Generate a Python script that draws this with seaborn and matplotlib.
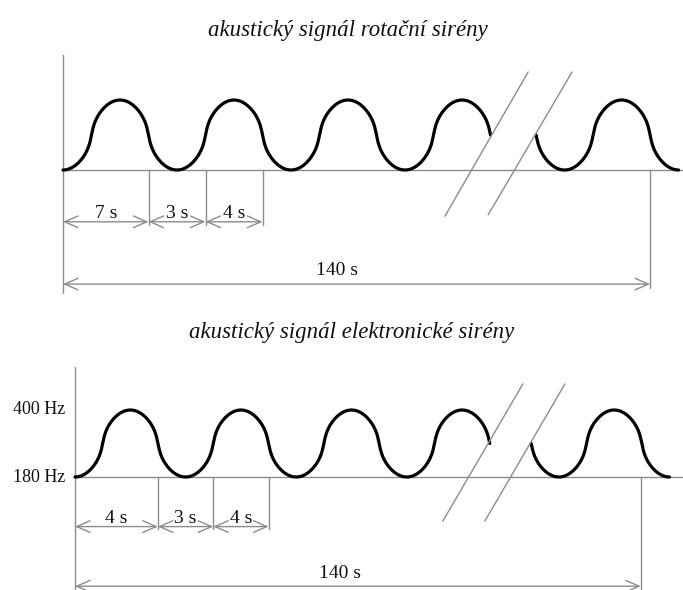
#!/usr/bin/env python3
"""Siren signal diagrams: rotary vs electronic siren (schematic)."""

import matplotlib
matplotlib.use("Agg")
import matplotlib.pyplot as plt
import numpy as np
import pandas as pd
import seaborn as sns

# --- data (diagram units: x in half-periods, y 0 = baseline, 1 = peak) ---
TITLES = ["akustický signál rotační sirény", "akustický signál elektronické sirény"]

# wave pieces before / after the break: (start, end, trough phase)
WAVE_PIECES = [
    [(0.0, 7.5, 0.0), (8.30, 10.80, 0.80)],
    [(0.0, 7.5, 0.0), (8.25, 10.75, 0.75)],
]

# dimension chain below the wave
DIM_BOUNDS = [0.0, 1.5, 2.5, 3.5]
DIM_LABELS = [["7 s", "3 s", "4 s"], ["4 s", "3 s", "4 s"]]

# total duration
TOTAL_END = [10.3, 10.23]
TOTAL_LABEL = "140 s"
TOTAL_LABEL_X = 4.8

# break marks (x0, y0, x1, y1)
BREAK_LINES = [
    [(8.16, 1.40, 6.70, -0.66), (8.93, 1.40, 7.46, -0.64)],
    [(8.10, 1.39, 6.65, -0.66), (8.86, 1.39, 7.41, -0.66)],
]

FREQ_LABELS = ["180 Hz", "400 Hz"]
FREQ_LEVELS = [0, 1]

# --- layout (pixels) ---
W, H = 683, 590
PANELS = [
    dict(ox=63, unit=57.0, base=170, amp=70, top=0, bot=295),
    dict(ox=75, unit=55.3, base=477, amp=67, top=295, bot=590),
]
GRAY = "#8c8c8c"
INK = "#111111"

sns.set_theme(style="white")
plt.rcParams["font.family"] = ["Liberation Serif", "DejaVu Serif"]

fig = plt.figure(figsize=(W / 100, H / 100), dpi=100)


def wave(u, phase, p=0.55, e=0.12):
    # cosine with steep (but smooth) flanks and broad crests
    c = np.cos(np.pi * (u - phase))
    g = c * (c**2 + e**2) ** ((p - 1) / 2) / (1 + e**2) ** ((p - 1) / 2)
    return (1 - g) / 2


for i, pan in enumerate(PANELS):
    ax = fig.add_axes([0, 1 - pan["bot"] / H, 1, (pan["bot"] - pan["top"]) / H])
    ax.set_xlim(-pan["ox"] / pan["unit"], (W - pan["ox"]) / pan["unit"])
    ax.set_ylim((pan["base"] - pan["bot"]) / pan["amp"], (pan["base"] - pan["top"]) / pan["amp"])
    ax.axis("off")

    # axis and baseline
    ax.plot([0, 0], [1.64, -1.75], color=GRAY, lw=1.0)
    ax.plot([0, 11.2], [0, 0], color=GRAY, lw=1.0)

    # signal
    for start, end, phase in WAVE_PIECES[i]:
        u = np.linspace(start, end, 600)
        df = pd.DataFrame({"t": u, "f": wave(u, phase)})
        sns.lineplot(data=df, x="t", y="f", ax=ax, color="black", lw=2.3,
                     sort=False, estimator=None)

    # break marks
    for x0, y0, x1, y1 in BREAK_LINES[i]:
        ax.plot([x0, x1], [y0, y1], color=GRAY, lw=1.0)

    # dimension chain
    arrow = dict(arrowstyle="<->,head_length=0.8,head_width=0.35", color=GRAY,
                 lw=1.0, shrinkA=0, shrinkB=0)
    for b in DIM_BOUNDS[1:]:
        ax.plot([b, b], [0, -0.78], color=GRAY, lw=1.0)
    for a, b, lab in zip(DIM_BOUNDS[:-1], DIM_BOUNDS[1:], DIM_LABELS[i]):
        ax.annotate("", xy=(a, -0.74), xytext=(b, -0.74), arrowprops=arrow)
        ax.text((a + b) / 2, -0.68, lab, ha="center", va="baseline",
                fontsize=14, color=INK)

    # total
    ax.plot([TOTAL_END[i]] * 2, [0, -1.68], color=GRAY, lw=1.0)
    ax.annotate("", xy=(0, -1.63), xytext=(TOTAL_END[i], -1.63), arrowprops=arrow)
    ax.text(TOTAL_LABEL_X, -1.50, TOTAL_LABEL, ha="center", va="baseline",
            fontsize=14, color=INK)

    # title
    ax.text(5.0, 1.99 if i == 0 else 2.15, TITLES[i], ha="center", va="center",
            fontsize=16.5, style="italic", color=INK)

    # frequency labels (electronic siren only)
    if i == 1:
        for lab, lev in zip(FREQ_LABELS, FREQ_LEVELS):
            ax.text(-0.18, lev, lab, ha="right", va="center", fontsize=13, color=INK)

fig.savefig("out.png", dpi=100)
